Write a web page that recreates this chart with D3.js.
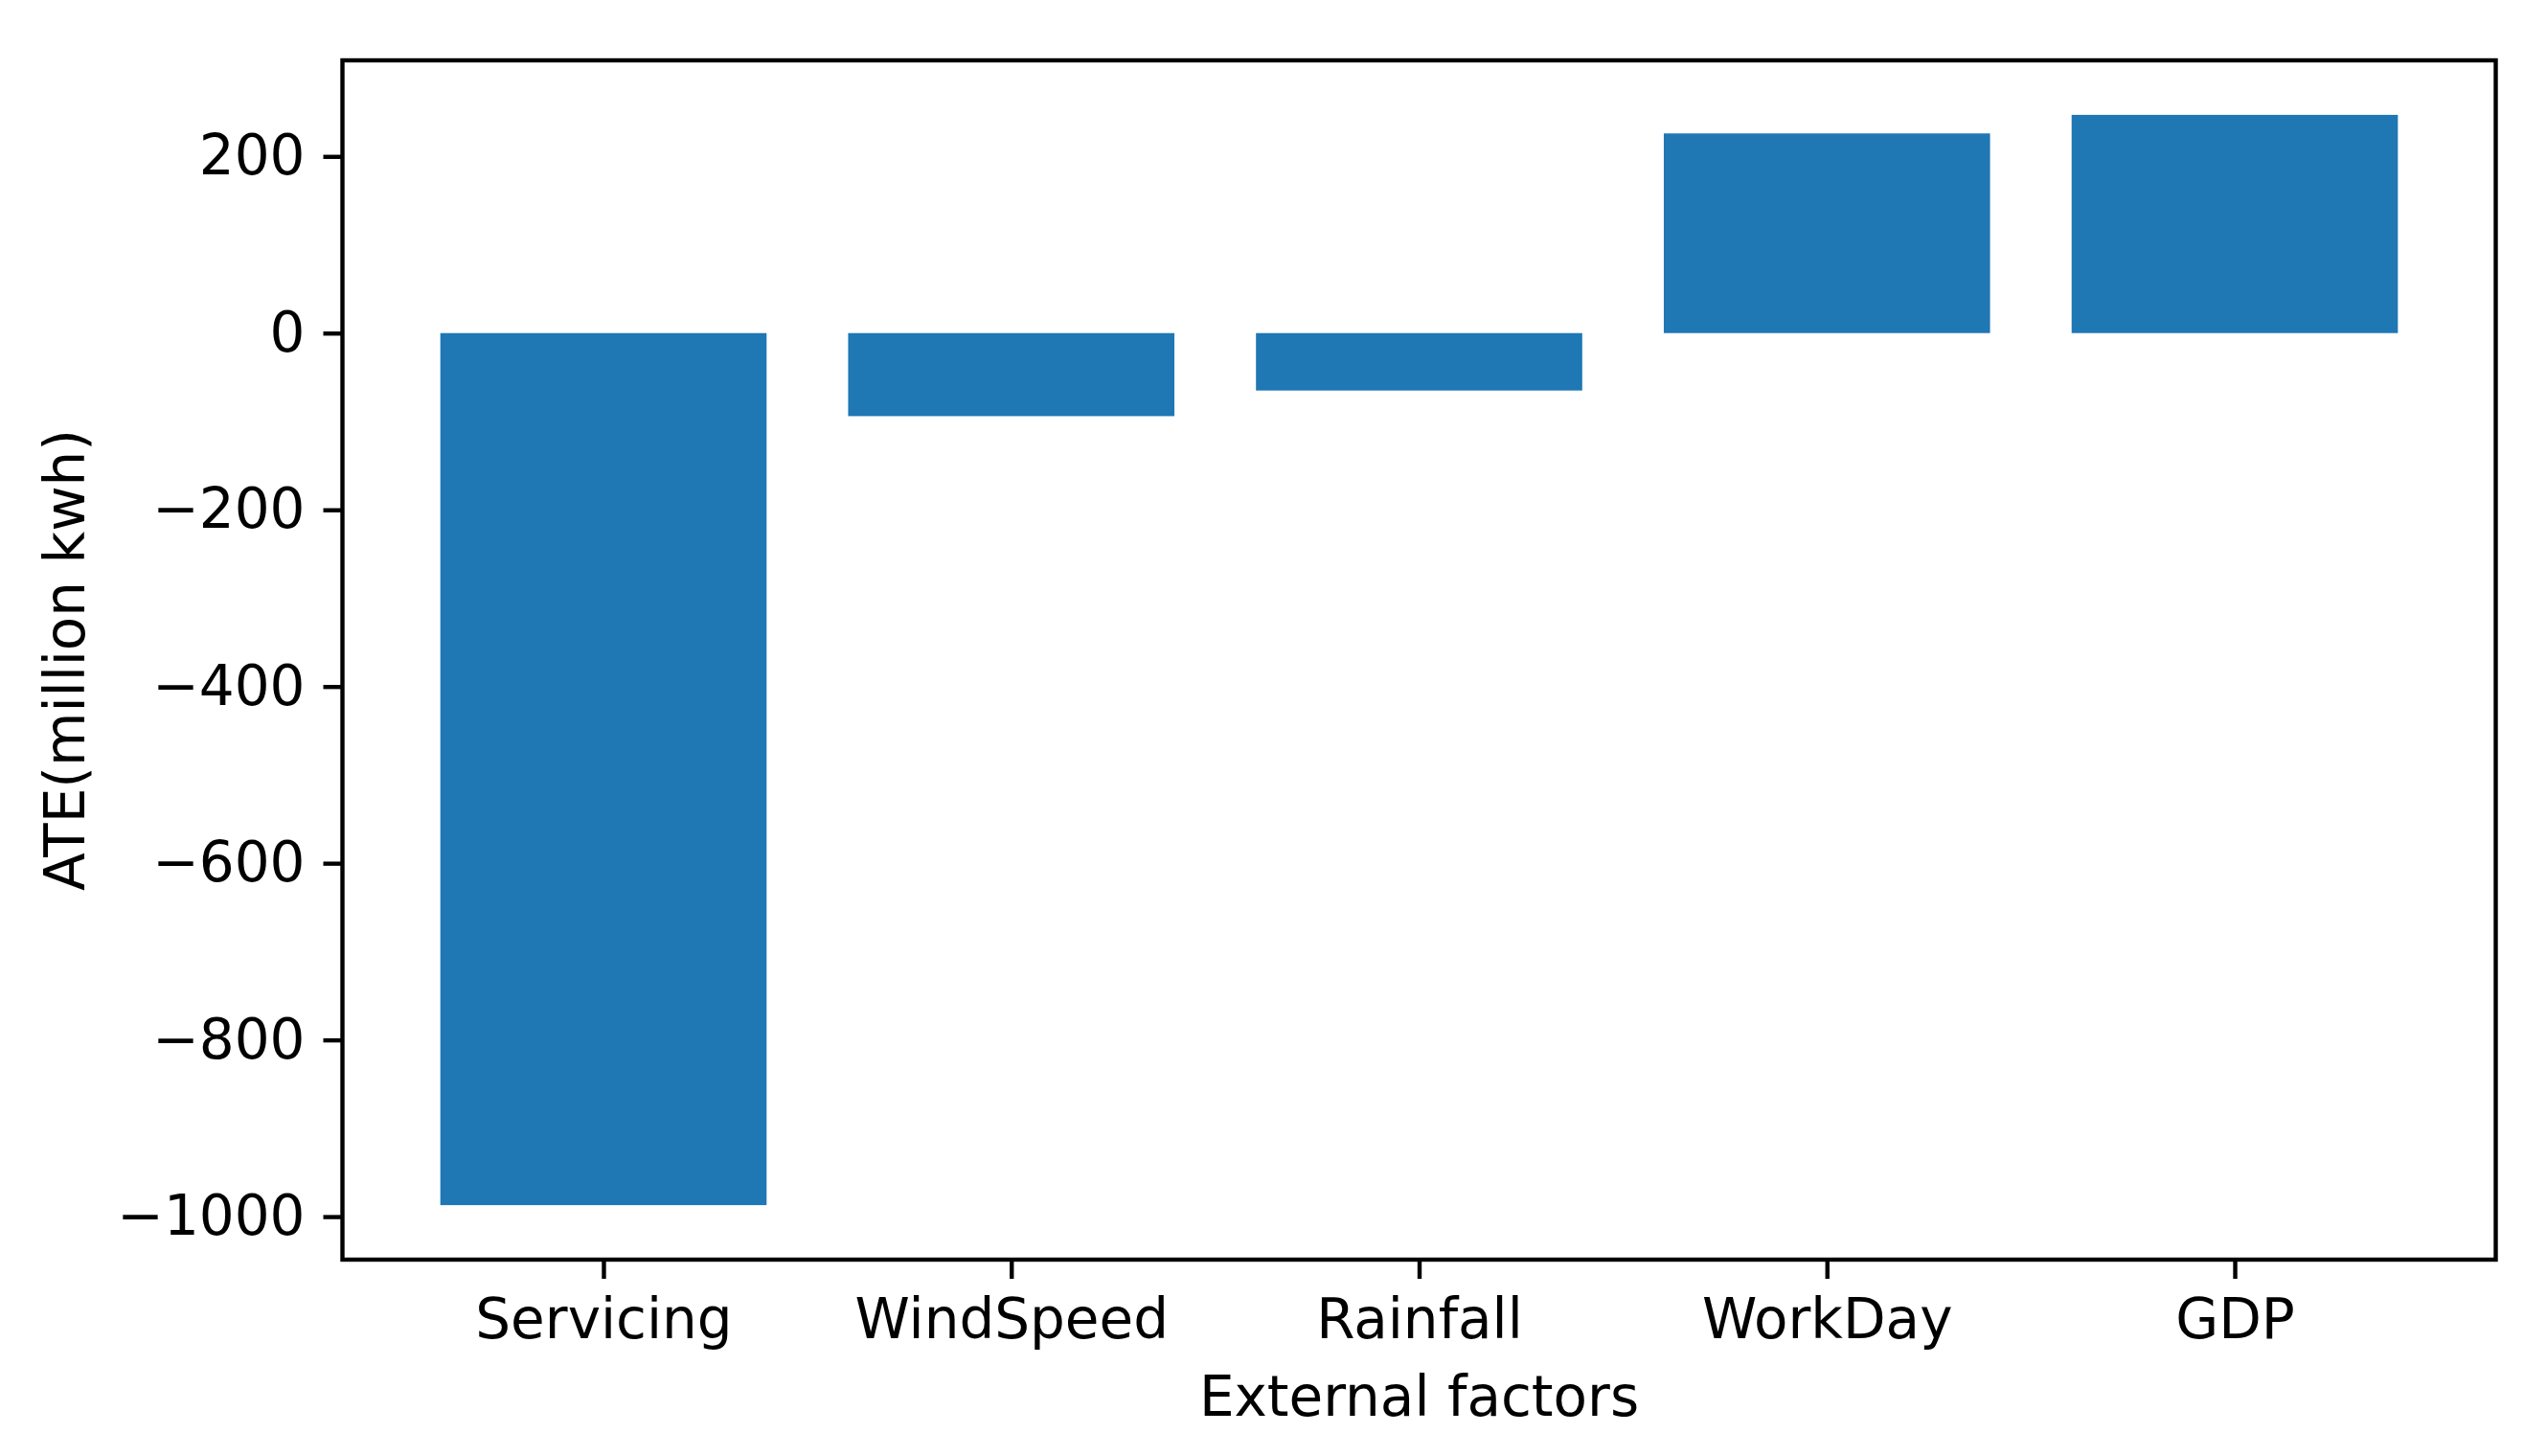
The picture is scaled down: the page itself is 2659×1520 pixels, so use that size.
<!DOCTYPE html>
<html>
<head>
<meta charset="utf-8">
<script src="https://cdn.jsdelivr.net/npm/d3@7"></script>
<style>
    html, body { margin: 0; padding: 0; background: #fff; }
    svg text { font-family: "DejaVu Sans", sans-serif; fill: #000; }
</style>
</head>
<body>
<svg id="chart"></svg>
<script>
// chart data
var factors = ["Servicing", "WindSpeed", "Rainfall", "WorkDay", "GDP"];
var ateValues = [-987, -94, -65, 226, 247];
var yTickValues = [200, 0, -200, -400, -600, -800, -1000];

var xTitle = "External factors";
var yTitle = "ATE(million kwh)";

var width = 2659;
var height = 1520;

// axes box in pixels
var margin = {
    top: 63,
    right: 53.5,
    bottom: 205,
    left: 357.5
};

var plotW = width - margin.left - margin.right;
var plotH = height - margin.top - margin.bottom;

var barWidth = 0.8;
var pad = 0.05;
var fontSize = 58;

var svg = d3.select("#chart")
    .attr("width", width)
    .attr("height", height);

// x range like matplotlib: bar extents plus 5% margins
var xMin = -barWidth / 2, xMax = factors.length - 1 + barWidth / 2;
var xSpan = xMax - xMin;
var x = d3.scaleLinear()
    .domain([xMin - pad * xSpan, xMax + pad * xSpan])
    .range([0, plotW]);

var yMin = Math.min(0, d3.min(ateValues)), yMax = Math.max(0, d3.max(ateValues));
var ySpan = yMax - yMin;
var y = d3.scaleLinear()
    .domain([yMin - pad * ySpan, yMax + pad * ySpan])
    .range([plotH, 0]);

var g = svg.append("g")
    .attr("transform", "translate(" + margin.left + "," + margin.top + ")");

// bars
g.selectAll(".bar")
    .data(ateValues)
    .enter().append("rect")
    .attr("class", "bar")
    .attr("x", function(d, i) { return x(i - barWidth / 2); })
    .attr("width", x(barWidth) - x(0))
    .attr("y", function(d) { return y(Math.max(0, d)); })
    .attr("height", function(d) { return Math.abs(y(d) - y(0)); })
    .attr("fill", "#1f77b4");

// x axis
var axisX = g.append("g")
    .attr("transform", "translate(0," + plotH + ")")
    .call(d3.axisBottom(x)
        .tickValues(d3.range(factors.length))
        .tickFormat(function(i) { return factors[i]; })
        .tickSizeInner(20)
        .tickSizeOuter(0)
        .tickPadding(21));

// y axis
var axisY = g.append("g")
    .call(d3.axisLeft(y)
        .tickValues(yTickValues)
        .tickFormat(function(d) { return d < 0 ? "\u2212" + Math.abs(d) : String(d); })
        .tickSizeInner(20)
        .tickSizeOuter(0)
        .tickPadding(19));

[axisX, axisY].forEach(function(ax) {
    ax.select(".domain").remove();
    ax.selectAll(".tick line").attr("stroke", "#000").attr("stroke-width", 4.4);
    ax.selectAll(".tick text")
        .attr("font-size", fontSize)
        .attr("font-family", "DejaVu Sans, sans-serif")
        .attr("fill", "#000");
});

// frame around the plot
g.append("rect")
    .attr("x", 0)
    .attr("y", 0)
    .attr("width", plotW)
    .attr("height", plotH)
    .attr("fill", "none")
    .attr("stroke", "#000")
    .attr("stroke-width", 4.4);

// axis titles
svg.append("text")
    .attr("x", margin.left + plotW / 2)
    .attr("y", 1478)
    .attr("text-anchor", "middle")
    .attr("font-size", fontSize)
    .text(xTitle);

svg.append("text")
    .attr("transform", "translate(88," + (margin.top + plotH / 2) + ") rotate(-90)")
    .attr("text-anchor", "middle")
    .attr("font-size", fontSize)
    .text(yTitle);
</script>
</body>
</html>
